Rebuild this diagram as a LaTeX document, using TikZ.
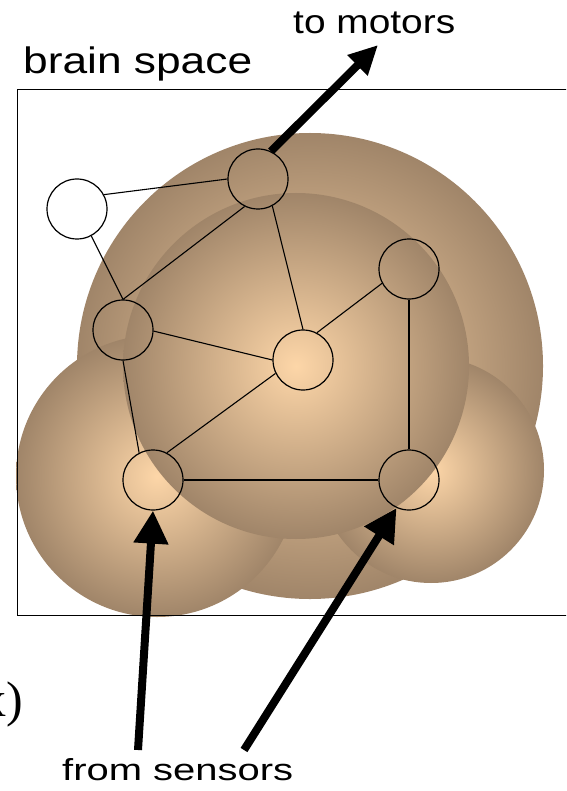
\documentclass[tikz,border=0pt]{standalone}
\usepackage{graphicx}
\usepackage{fontspec}
\setmainfont{Liberation Sans}
\newfontfamily\labelserif{Liberation Serif}
\usetikzlibrary{arrows.meta}
\definecolor{blobLight}{RGB}{253,214,168}
\definecolor{blobDark}{RGB}{160,133,105}
\begin{document}
\begin{tikzpicture}[x=1pt,y=-1pt,
  blob/.style={shading=radial, inner color=blobLight, outer color=blobDark},
  unit/.style={circle, draw, line width=1.2pt, minimum size=60pt, inner sep=0pt},
  link/.style={line width=1.1pt},
  bigarrow/.style={line width=8pt, -{Triangle[length=33pt,width=33pt]}},
  lbl/.style={inner sep=0pt, anchor=base west}]
\useasboundingbox (0,0) rectangle (566,791);
\clip (0,0) rectangle (566,791);
\fill[white] (0,0) rectangle (566,791);
% shaded blobs
\shade[blob] (310,366) circle[radius=233];
\shade[blob] (157,476) circle[radius=141];
\shade[blob] (431,470) circle[radius=113];
\shade[blob] (296,366) circle[radius=173];
% brain space frame
\draw[line width=1pt] (17.3,89.3) rectangle (640,615.7);
% units
\node[unit] (w) at (77,209) {};
\node[unit] (t) at (258,179) {};
\node[unit] (rt) at (409,269) {};
\node[unit] (l) at (123,330) {};
\node[unit] (c) at (303,360) {};
\node[unit] (bl) at (153,480) {};
\node[unit] (br) at (409,480) {};
% links
\draw[link] (w.28) -- (t.180);
\draw[link] (w.-62.7) -- (l.90);
\draw[link] (l.90) -- (t.244);
\draw[link] (t.-62.6) -- (c.90);
\draw[link] (l.-2) -- (c.180);
\draw[link] (c.63.4) -- (rt.208);
\draw[link] (l.270) -- (bl.117);
\draw[link] (c.206.6) -- (bl.63.4);
\draw[link] (bl.0) -- (br.180);
\draw[link] (rt.270) -- (br.90);
% arrows
\coordinate (motor) at (378,45);
\coordinate (s1) at (138,750);
\coordinate (s2) at (244,750);
\draw[line width=8pt, -{Triangle[length=29pt,width=27pt]}] (t.65) -- (motor);
\draw[bigarrow] (s1) -- (bl.270);
\draw[bigarrow] (s2) -- (br.-114);
% labels
\node[lbl] (bs) at (23,73.3) {\resizebox{229pt}{26.7pt}{brain space}};
\node[lbl] (tm) at (293,33.3) {\resizebox{162pt}{21.6pt}{to motors}};
\node[lbl] (fs) at (62,780) {\resizebox{231pt}{22pt}{from sensors}};
\node[inner sep=0pt, anchor=base east, font=\labelserif\fontsize{50pt}{60pt}\selectfont] (xl) at (23,716) {x)};
\end{tikzpicture}
\end{document}
